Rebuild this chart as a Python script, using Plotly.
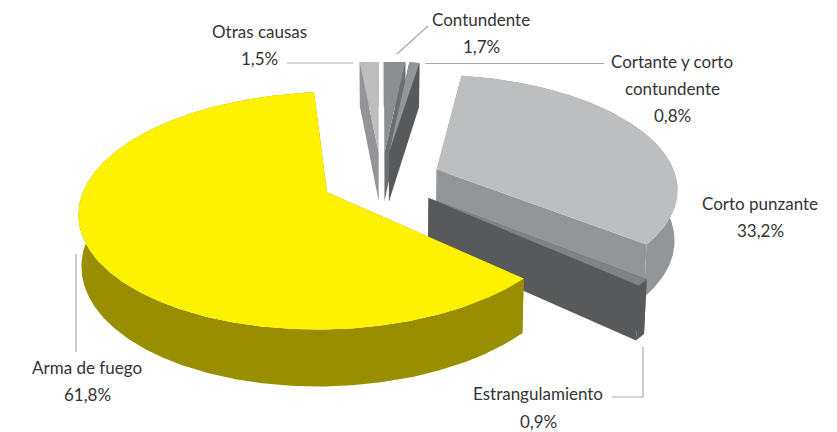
import numpy as np
import plotly.graph_objects as go

categories = ["Otras causas", "Contundente", "Cortante y corto contundente", "Corto punzante", "Estrangulamiento", "Arma de fuego"]
values = [1.5, 1.7, 0.8, 33.2, 0.9, 61.8]
value_labels = ["1,5%", "1,7%", "0,8%", "33,2%", "0,9%", "61,8%"]
top_colors = ["#BCBEC0", "#8C8E90", "#939598", "#BCBEC0", "#808285", "#FFF200"]
side_colors = ["#939598", "#6D6E71", "#58595B", "#939598", "#58595B", "#998D00"]

W, H = 837, 432
START = 354.5
EXPLODE = 0.25
CX, CY, A, B, K = 381.5, 179.5, 240.0, 112.0, 0.152
WALL, BOTTOM_SCALE = 50.0, 0.99


def project(X, Y, bottom=False):
    X, Y = np.asarray(X, float), np.asarray(Y, float)
    w = 1 + K * Y
    sx = A * X / w
    sy = CY - B * Y / w
    if bottom:
        return CX + sx * BOTTOM_SCALE, sy + WALL * w ** -0.7
    return CX + sx, sy


fig = go.Figure()


def poly(xs, ys, color):
    fig.add_trace(go.Scatter(x=np.asarray(xs), y=np.asarray(ys), mode="lines", fill="toself",
                             fillcolor=color, line=dict(width=0, color=color),
                             hoverinfo="skip", showlegend=False))


total = sum(values)
angle = START
for val, top, side in zip(values, top_colors, side_colors):
    span = 360.0 * val / total
    a0, a1 = np.radians(angle), np.radians(angle + span)
    mid = (a0 + a1) / 2
    ox, oy = EXPLODE * np.sin(mid), EXPLODE * np.cos(mid)
    th = np.linspace(a0, a1, max(4, int(span * 1.5)))
    ax, ay = ox + np.sin(th), oy + np.cos(th)
    # outer wall
    tx, ty = project(ax, ay)
    bx, by = project(ax, ay, bottom=True)
    poly(np.r_[tx, bx[::-1]], np.r_[ty, by[::-1]], side)
    # cut faces
    ctx, cty = project([ox], [oy])
    cbx, cby = project([ox], [oy], bottom=True)
    for i in (0, -1):
        poly([ctx[0], tx[i], bx[i], cbx[0]], [cty[0], ty[i], by[i], cby[0]], side)
    # top surface
    poly(np.r_[ctx, tx], np.r_[cty, ty], top)
    angle += span

# leader lines
leaders = [
    ([287, 353], [63, 63]),
    ([397, 428], [54, 26]),
    ([425, 604], [63.5, 63.5]),
    ([76, 76], [254, 352]),
    ([643, 643, 612], [347, 397, 397]),
]
for lx, ly in leaders:
    fig.add_trace(go.Scatter(x=lx, y=ly, mode="lines", line=dict(color="#A7A9AC", width=1.2),
                             hoverinfo="skip", showlegend=False))

# text
label_lines = {
    0: [["Otras causas"], 259, [31]],
    1: [["Contundente"], 481, [19]],
    2: [["Cortante y corto", "contundente"], 672, [61, 88]],
    3: [["Corto punzante"], 760, [203]],
    4: [["Estrangulamiento"], 538, [393]],
    5: [["Arma de fuego"], 87, [367]],
}
PCT_Y = [58, 46, 115, 230, 421, 394]
FONT = dict(family="Lato, sans-serif", size=17, color="#333335")
for i, (lines, x, ys) in label_lines.items():
    for t, y in zip(lines + [value_labels[i]], ys + [PCT_Y[i]]):
        fig.add_annotation(x=x, y=y, text=t, showarrow=False, font=FONT, xanchor="center", yanchor="middle")

fig.update_layout(
    width=W, height=H, margin=dict(l=0, r=0, t=0, b=0),
    paper_bgcolor="white", plot_bgcolor="white", showlegend=False,
    xaxis=dict(range=[0, W], visible=False, fixedrange=True),
    yaxis=dict(range=[H, 0], visible=False, fixedrange=True),
)
fig.write_html("out.html", config={"displayModeBar": False},
               post_script="document.body.style.margin='0';document.documentElement.style.overflow='hidden';")
